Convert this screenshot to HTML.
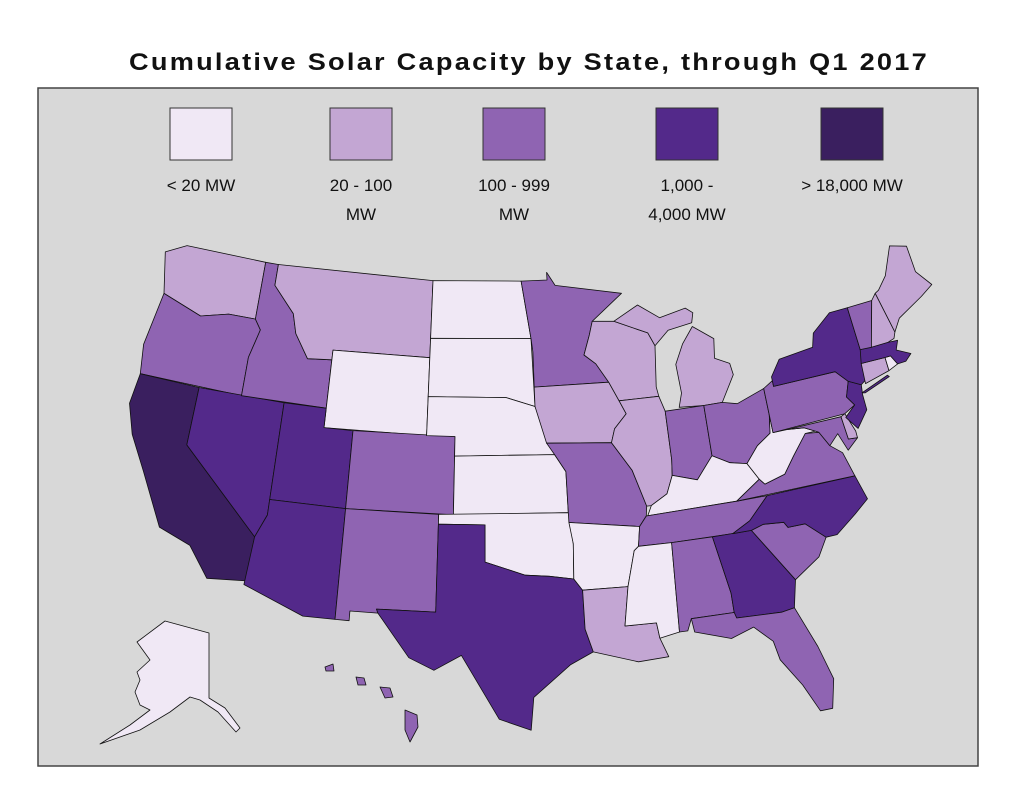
<!DOCTYPE html>
<html><head><meta charset="utf-8"><style>
body{margin:0;background:#fff;width:1011px;height:787px;overflow:hidden;font-family:"Liberation Sans",sans-serif}
</style></head><body>
<svg id="chart" width="1011" height="787">
<text x="529" y="70" text-anchor="middle" font-size="24" font-weight="bold" letter-spacing="2" textLength="800" lengthAdjust="spacingAndGlyphs" fill="#111">Cumulative Solar Capacity by State, through Q1 2017</text>
<rect x="38" y="88" width="940" height="678" fill="#d8d8d8" stroke="#444" stroke-width="1.5"/>
<g id="legend"></g>
<g id="states"></g>
</svg>
<script>
const binColors=["#f0e8f5","#c3a6d3","#8f64b2","#53298a","#3a1f5f"];
const binLabels=[["< 20 MW"],["20 - 100","MW"],["100 - 999","MW"],["1,000 -","4,000 MW"],["> 18,000 MW"]];
const stateCodes=["WA","OR","CA","NV","ID","MT","WY","UT","AZ","CO","NM","ND","SD","NE","KS","OK","TX","MN","IA","MO","AR","LA","WI","IL","MI","MIU","IN","OH","KY","TN","MS","AL","GA","FL","SC","NC","VA","WV","MD","DE","PA","NJ","NY","NYLI","CT","RI","MA","VT","NH","ME","AK","HI"];
const stateBins=[1,2,4,3,2,1,0,3,3,2,2,0,0,0,0,0,3,2,1,2,0,1,1,1,1,1,2,2,0,2,0,2,3,2,2,3,2,0,2,1,2,3,3,3,1,0,3,2,1,1,0,2];
const S={
WA:[[-124.7,48.4],[-123.2,49],[-117,49],[-117,46],[-119,46],[-121,45.6],[-124,46.3]],
OR:[[-124,46.3],[-121,45.6],[-119,46],[-117,46],[-116.5,45.5],[-117,44],[-117,42],[-124.2,42],[-124.5,43.5]],
CA:[[-124.2,42],[-120,42],[-120,39],[-114.6,35],[-114.7,32.7],[-117.1,32.5],[-118.5,34],[-120.6,34.6],[-122.4,37.2],[-123.7,38.9],[-124.4,40.4]],
NV:[[-120,42],[-114,42],[-114,36.2],[-114.6,35],[-120,39]],
ID:[[-117,49],[-116,49],[-116,47.9],[-114.3,46.6],[-113.9,45.6],[-112.8,44.4],[-111.05,44.5],[-111.05,42],[-117,42],[-117,44],[-116.5,45.5],[-117,46]],
MT:[[-116,49],[-104,49],[-104,45],[-111.05,45],[-111.05,44.5],[-112.8,44.4],[-113.9,45.6],[-114.3,46.6],[-116,47.9]],
WY:[[-111.05,45],[-104,45],[-104,41],[-111.05,41]],
UT:[[-114,42],[-111.05,42],[-111.05,41],[-109.05,41],[-109.05,37],[-114,37]],
AZ:[[-114,37],[-109.05,37],[-109.05,31.3],[-111,31.3],[-114.8,32.5],[-114.6,35],[-114,36.2]],
CO:[[-109.05,41],[-102.05,41],[-102.05,37],[-109.05,37]],
NM:[[-109.05,37],[-103,37],[-103,32],[-106.6,32],[-106.5,31.8],[-108.2,31.8],[-108.2,31.3],[-109.05,31.3]],
ND:[[-104,49],[-97.2,49],[-96.6,46],[-104,46]],
SD:[[-104,46],[-96.6,46],[-96.5,42.5],[-98.5,43],[-104,43]],
NE:[[-104,43],[-98.5,43],[-96.5,42.5],[-95.3,40],[-102.05,40],[-102.05,41],[-104,41]],
KS:[[-102.05,40],[-95.3,40],[-94.6,39.1],[-94.6,37],[-102.05,37]],
OK:[[-103,37],[-94.6,37],[-94.4,35.4],[-94.5,33.6],[-96,33.8],[-97.5,33.9],[-100,34.6],[-100,36.5],[-103,36.5]],
TX:[[-103,36.5],[-100,36.5],[-100,34.6],[-97.5,33.9],[-96,33.8],[-94.5,33.6],[-94,33],[-94,31],[-93.6,29.8],[-95,29.2],[-97.2,27.6],[-97.4,25.9],[-99.2,26.5],[-101.4,29.8],[-103,29],[-104.5,29.6],[-106.5,31.8],[-106.6,32],[-103,32]],
MN:[[-97.2,49],[-95.2,49],[-95.2,49.4],[-94.6,48.7],[-89.6,48],[-92,46.7],[-92.3,46],[-92.8,45],[-92,44.5],[-91.2,43.5],[-96.5,43.5],[-96.5,45.3],[-96.6,46]],
IA:[[-96.5,43.5],[-91.2,43.5],[-90.6,42.5],[-90.2,41.8],[-91.1,41.1],[-91.4,40.4],[-95.8,40.6],[-96.5,42.5]],
MO:[[-95.8,40.6],[-91.4,40.4],[-90.2,38.9],[-89.5,37],[-89.6,36.5],[-90.1,36],[-94.6,36.5],[-94.6,39.1],[-95.3,40]],
AR:[[-94.6,36.5],[-90.1,36],[-90.3,35],[-90.6,34.8],[-91.2,33],[-94,33],[-94.5,33.6],[-94.4,35.4]],
LA:[[-94,33],[-91.2,33],[-91.6,31],[-89.7,31],[-89.6,30.2],[-89.2,29.2],[-91,29.1],[-93.6,29.8],[-94,31]],
WI:[[-92,46.7],[-90.4,46.6],[-88,45.8],[-87.6,45.1],[-87.9,43],[-87.8,42.5],[-90.6,42.5],[-91.2,43.5],[-92,44.5],[-92.8,45],[-92.3,46]],
IL:[[-90.6,42.5],[-87.8,42.5],[-87.5,41.7],[-87.5,39.2],[-87.6,38.4],[-88.1,37.5],[-89.2,37],[-89.5,37],[-90.2,38.9],[-91.4,40.4],[-91.1,41.1],[-90.2,41.8]],
MI:[[-86.5,41.8],[-84.8,41.7],[-83.5,41.7],[-82.4,43],[-82.5,43.6],[-83.5,44],[-83.3,45],[-84.7,45.8],[-85.6,45],[-86.3,44],[-86.2,42.5]],
MIU:[[-90.4,46.6],[-88,45.8],[-87.6,45.1],[-86.5,45.8],[-84.7,46],[-84.5,46.5],[-85,46.8],[-87,46.5],[-88.5,47.3]],
IN:[[-87.5,41.7],[-84.8,41.7],[-84.8,39.1],[-86,38],[-87.6,38.4],[-87.5,39.2]],
OH:[[-84.8,41.7],[-83.5,41.7],[-82.5,41.5],[-80.5,42],[-80.5,40.6],[-80.7,39.7],[-81.7,39.2],[-82.6,38.4],[-83.7,38.6],[-84.8,39.1]],
KY:[[-89.5,36.5],[-89.2,37],[-88.1,37.5],[-87.6,38.4],[-86,38],[-84.8,39.1],[-83.7,38.6],[-82.6,38.4],[-82,37.5],[-83.7,36.6]],
TN:[[-90.3,35],[-88.2,35],[-84.3,35],[-83.1,35.5],[-81.7,36.6],[-83.7,36.6],[-89.6,36.5],[-90.1,36]],
MS:[[-91.2,33],[-90.6,34.8],[-90.3,35],[-88.2,35],[-88.4,30.4],[-89.6,30.2],[-89.7,31],[-91.6,31]],
AL:[[-88.2,35],[-85.6,35],[-85,32],[-85,31],[-87.6,31],[-87.9,30.4],[-88.4,30.4]],
GA:[[-85.6,35],[-83.1,35],[-81,32.1],[-81.4,30.7],[-82.2,30.6],[-84.9,30.7],[-85,31],[-85,32]],
FL:[[-87.6,31],[-85,31],[-84.9,30.7],[-82.2,30.6],[-81.4,30.7],[-80.5,28.5],[-80,26.7],[-80.4,25.2],[-81.1,25.2],[-81.8,26.7],[-82.8,28.2],[-83,29.2],[-84,30.1],[-85.4,29.7],[-87.5,30.3]],
SC:[[-83.1,35],[-82.3,35.2],[-81,35.1],[-80.8,34.8],[-79.7,34.8],[-78.6,33.9],[-79.3,33],[-81,32.1]],
NC:[[-84.3,35],[-83.1,35.5],[-81.7,36.6],[-75.9,36.6],[-75.5,35.3],[-76.5,34.7],[-77.9,33.9],[-78.6,33.9],[-79.7,34.8],[-80.8,34.8],[-81,35.1],[-82.3,35.2],[-83.1,35]],
VA:[[-83.7,36.6],[-75.9,36.6],[-76.3,37.9],[-77,38.4],[-77.5,39.2],[-78.4,39.3],[-79.5,38.3],[-80.3,37.5],[-81.7,37.2],[-82,37.5]],
WV:[[-82.6,38.4],[-81.7,39.2],[-80.7,39.7],[-80.5,40.6],[-80.5,39.7],[-79.5,39.7],[-78.4,39.6],[-77.7,39.3],[-78.4,39.3],[-79.5,38.3],[-80.3,37.5],[-81.7,37.2],[-82,37.5]],
MD:[[-79.5,39.7],[-75.8,39.7],[-75.7,38.5],[-75.1,38.45],[-75.9,37.95],[-76.3,38.9],[-77,38.4],[-77.5,39.2],[-77.7,39.3],[-78.4,39.6]],
DE:[[-75.8,39.7],[-75.5,39.8],[-75.1,38.8],[-75.1,38.45],[-75.7,38.5]],
PA:[[-80.5,42],[-79.8,42.3],[-79.8,42],[-75.4,42],[-74.7,41.35],[-75.1,40.6],[-74.7,40.1],[-75.5,39.8],[-80.5,39.7]],
NJ:[[-74.7,41.35],[-73.9,41],[-74,40.5],[-74,39.7],[-74.9,38.9],[-75.5,39.6],[-74.7,40.1],[-75.1,40.6]],
NY:[[-79.8,42],[-79.8,42.5],[-79,43.3],[-76.5,43.5],[-76.2,44.2],[-74.7,45],[-73.35,45],[-73.3,42.7],[-73.5,41.2],[-73.9,41],[-74.7,41.35],[-75.4,42]],
NYLI:[[-74,40.6],[-72,41.1],[-71.9,41],[-73.8,40.55]],
CT:[[-73.5,42.05],[-71.8,42],[-71.8,41.3],[-73.6,41]],
RI:[[-71.8,42],[-71.4,42],[-71.1,41.5],[-71.8,41.3]],
MA:[[-73.5,42.05],[-73.3,42.75],[-71.3,42.7],[-70.6,42.65],[-70.9,42.2],[-70,41.8],[-70.5,41.5],[-71.1,41.5],[-71.4,42],[-71.8,42]],
VT:[[-73.35,45],[-71.5,45],[-72.5,42.7],[-73.3,42.75]],
NH:[[-71.5,45],[-71.1,45.3],[-70.6,43.1],[-70.8,42.8],[-71.3,42.7],[-72.5,42.7]],
ME:[[-71.1,45.3],[-70.6,43.1],[-70,43.7],[-68,44.4],[-67,44.8],[-67.8,45.7],[-67.8,47.1],[-69,47.4],[-70,46],[-70.8,45.4]]
};
// inset shapes in inset coordinates (not data)
const AKshape=[[165,621],[209,633],[209,698],[225,708],[240,728],[236,732],[218,712],[200,700],[190,697],[170,712],[140,730],[100,744],[130,725],[150,710],[140,705],[135,692],[140,680],[137,672],[150,660],[137,642]];
const HIshapes=[[[325,667],[333,664],[334,671],[326,671]],[[356,677],[364,678],[366,685],[358,685]],[[380,687],[390,688],[393,697],[385,698]],[[405,710],[417,715],[418,727],[410,742],[405,730]]];
const NS="http://www.w3.org/2000/svg";
const d2r=Math.PI/180,p1=29.5*d2r,p2=45.5*d2r,lat0=37.5*d2r,lon0=-96*d2r;
const n=(Math.sin(p1)+Math.sin(p2))/2,C=Math.cos(p1)**2+2*n*Math.sin(p1),r0=Math.sqrt(C-2*n*Math.sin(lat0))/n;
function alb(lon,lat){const r=Math.sqrt(C-2*n*Math.sin(lat*d2r))/n,t=n*(lon*d2r-lon0);return[r*Math.sin(t),r0-r*Math.cos(t)];}
// calibration control points (lon,lat -> px) for an affine fit
const ctrlGeo=[[-124.7,48.4],[-97.4,25.9],[-80.4,25.1],[-67,44.8],[-124.4,40.4],[-79.8,42.3],[-117,49]];
const ctrlPx=[[165,252],[532,730],[832,710],[932,283],[130,403],[773,383],[265,262]];
function solve3(M,v){const A=M.map((r,i)=>[...r,v[i]]);for(let i=0;i<3;i++){let p=i;for(let k=i+1;k<3;k++)if(Math.abs(A[k][i])>Math.abs(A[p][i]))p=k;[A[i],A[p]]=[A[p],A[i]];for(let k=0;k<3;k++)if(k!==i){const f=A[k][i]/A[i][i];for(let j=i;j<4;j++)A[k][j]-=f*A[i][j];}}return A.map((r,i)=>r[3]/r[i]);}
const Q=ctrlGeo.map(g=>alb(g[0],g[1]));
const M=[[0,0,0],[0,0,0],[0,0,0]],bx=[0,0,0],by=[0,0,0];
Q.forEach((q,i)=>{const r=[q[0],q[1],1];for(let a=0;a<3;a++){for(let b=0;b<3;b++)M[a][b]+=r[a]*r[b];bx[a]+=r[a]*ctrlPx[i][0];by[a]+=r[a]*ctrlPx[i][1];}});
const cx=solve3(M,bx),cy=solve3(M,by);
function proj(lon,lat){const q=alb(lon,lat);return[cx[0]*q[0]+cx[1]*q[1]+cx[2],cy[0]*q[0]+cy[1]*q[1]+cy[2]];}
const g=document.getElementById('states');
function addPoly(pts,fill,name){const p=document.createElementNS(NS,'polygon');p.setAttribute('points',pts.map(v=>v[0].toFixed(1)+','+v[1].toFixed(1)).join(' '));p.setAttribute('fill',fill);p.setAttribute('stroke','#111');p.setAttribute('stroke-width','0.8');p.setAttribute('stroke-linejoin','round');


g.appendChild(p);}
stateCodes.forEach((c,i)=>{const col=binColors[stateBins[i]];
 if(c==='AK'){addPoly(AKshape,col,'state-ak');}
 else if(c==='HI'){HIshapes.forEach(s=>addPoly(s,col,'state-hi'));}
 else addPoly(S[c].map(v=>proj(v[0],v[1])),col,'state-'+c.toLowerCase());});
const lg=document.getElementById('legend');
const lx=[170,330,483,656,821];
binColors.forEach((c,i)=>{const r=document.createElementNS(NS,'rect');r.setAttribute('x',lx[i]);r.setAttribute('y',108);r.setAttribute('width',62);r.setAttribute('height',52);r.setAttribute('fill',c);r.setAttribute('stroke','#333');r.setAttribute('stroke-width','1');


lg.appendChild(r);
binLabels[i].forEach((t,j)=>{const tx=document.createElementNS(NS,'text');tx.setAttribute('x',lx[i]+31);tx.setAttribute('y',191+j*29);tx.setAttribute('text-anchor','middle');tx.setAttribute('font-size','17');tx.setAttribute('fill','#111');tx.textContent=t;


lg.appendChild(tx);});});
</script>
</body></html>
